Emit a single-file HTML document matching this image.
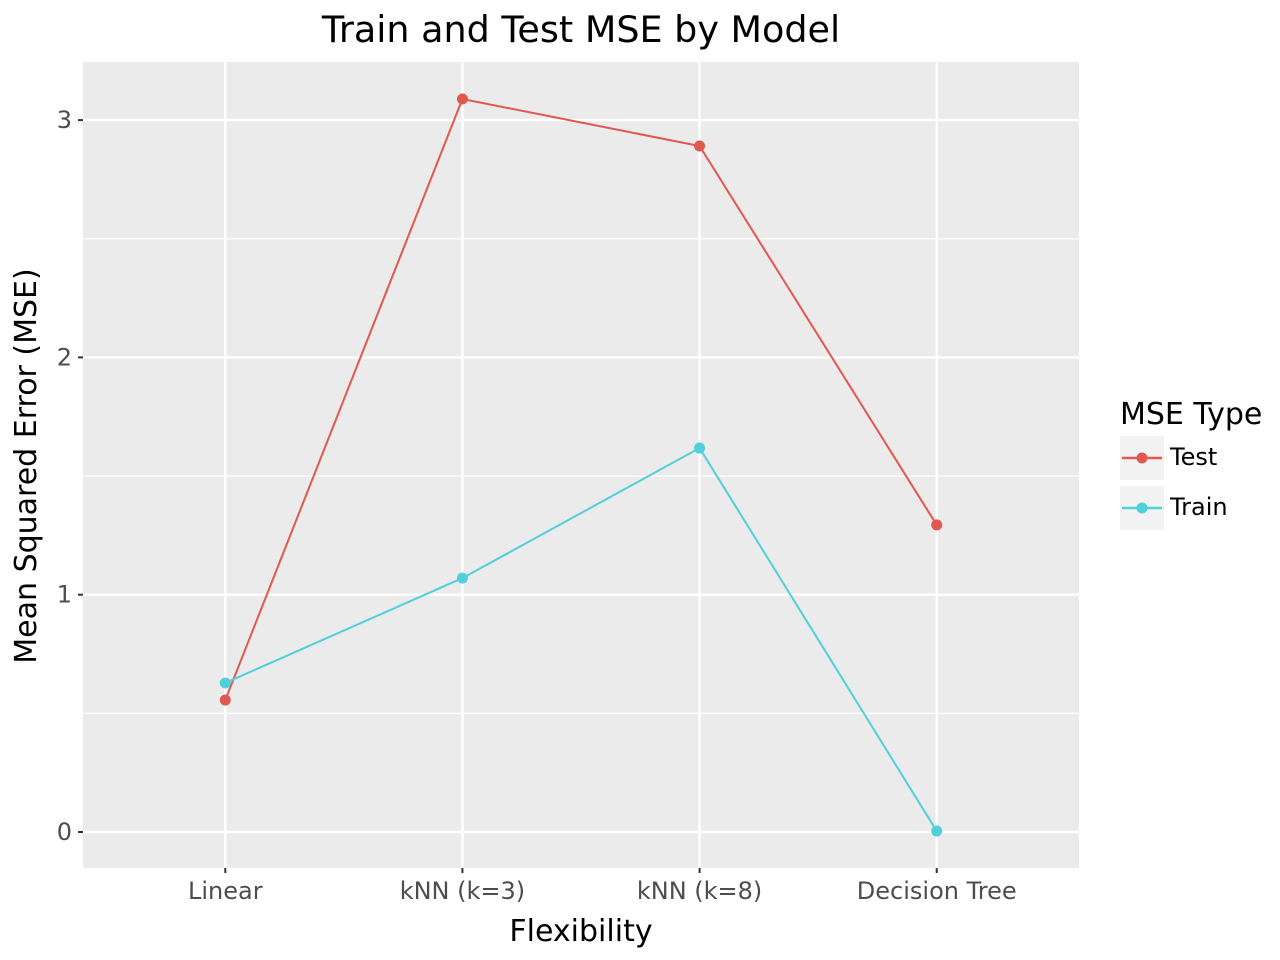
<!DOCTYPE html>
<html><head><meta charset="utf-8"><style>
html,body{margin:0;padding:0;background:#fff;}
svg{display:block;font-family:"DejaVu Sans","Liberation Sans",sans-serif;}
</style></head><body>
<svg id="chart" width="1280" height="960"></svg>
<script>
const categories = ["Linear","kNN (k=3)","kNN (k=8)","Decision Tree"];
const testValues = [0.556, 3.089, 2.891, 1.294];
const trainValues = [0.628, 1.070, 1.618, 0.004];
const yTicks = [0,1,2,3];
const yMinor = [0.5,1.5,2.5];

const NS="http://www.w3.org/2000/svg";
const svg=document.getElementById('chart');
const P={l:83,r:1079,t:62,b:868};
const xs=i=>P.l+(i+1-0.4)/4.2*(P.r-P.l);
const ys=v=>832-v*237.3;
function el(t,a,parent){const e=document.createElementNS(NS,t);for(const k in a)e.setAttribute(k,a[k]);(parent||svg).appendChild(e);return e;}

const panel=el('rect',{x:P.l,y:P.t,width:P.r-P.l,height:P.b-P.t,fill:'#ebebeb'});


yMinor.forEach(v=>{const g=el('line',{x1:P.l,x2:P.r,y1:ys(v),y2:ys(v),stroke:'#fff','stroke-width':1.2});

});
yTicks.forEach(v=>{const g=el('line',{x1:P.l,x2:P.r,y1:ys(v),y2:ys(v),stroke:'#fff','stroke-width':2.4});


const tk=el('line',{x1:P.l-5,x2:P.l,y1:ys(v),y2:ys(v),stroke:'#333','stroke-width':2});


const t=el('text',{x:P.l-11,y:ys(v)+8,'text-anchor':'end','font-size':24,fill:'#4d4d4d'});t.textContent=v;

});
categories.forEach((c,i)=>{const g=el('line',{x1:xs(i),x2:xs(i),y1:P.t,y2:P.b,stroke:'#fff','stroke-width':2.4});


const tk=el('line',{x1:xs(i),x2:xs(i),y1:P.b,y2:P.b+5,stroke:'#333','stroke-width':2});


const t=el('text',{x:xs(i),y:899,'text-anchor':'middle','font-size':24,fill:'#4d4d4d'});t.textContent=c;

});

function series(vals,color,name){
  const pl=el('polyline',{points:vals.map((v,i)=>xs(i)+','+ys(v)).join(' '),fill:'none',stroke:color,'stroke-width':2});
  
  
  vals.forEach((v,i)=>{const c=el('circle',{cx:xs(i),cy:ys(v),r:5.5,fill:color});
  
  });
}
series(testValues,'#e0584f','test');
series(trainValues,'#4fd0da','train');

const title=el('text',{x:581,y:42,'text-anchor':'middle','font-size':36.5,fill:'#000'});title.textContent='Train and Test MSE by Model';


const xt=el('text',{x:581,y:941,'text-anchor':'middle','font-size':30,fill:'#000'});xt.textContent='Flexibility';


const yt=el('text',{x:0,y:0,'text-anchor':'middle','font-size':30,fill:'#000',transform:'translate(36,466) rotate(-90)'});yt.textContent='Mean Squared Error (MSE)';



const lt=el('text',{x:1120,y:424,'font-size':30,fill:'#000'});lt.textContent='MSE Type';


[['Test','#e0584f',436],['Train','#4fd0da',486]].forEach(([n,c,y])=>{
  const g=el('g',{});
  
  
  el('rect',{x:1120,y:y,width:44,height:44,fill:'#f2f2f2'},g);
  el('line',{x1:1122,x2:1162,y1:y+22,y2:y+22,stroke:c,'stroke-width':2.5},g);
  el('circle',{cx:1142,cy:y+22,r:5.5,fill:c},g);
  const t=el('text',{x:1170,y:y+29,'font-size':24,fill:'#000'},g);t.textContent=n;
});
</script>
</body></html>
